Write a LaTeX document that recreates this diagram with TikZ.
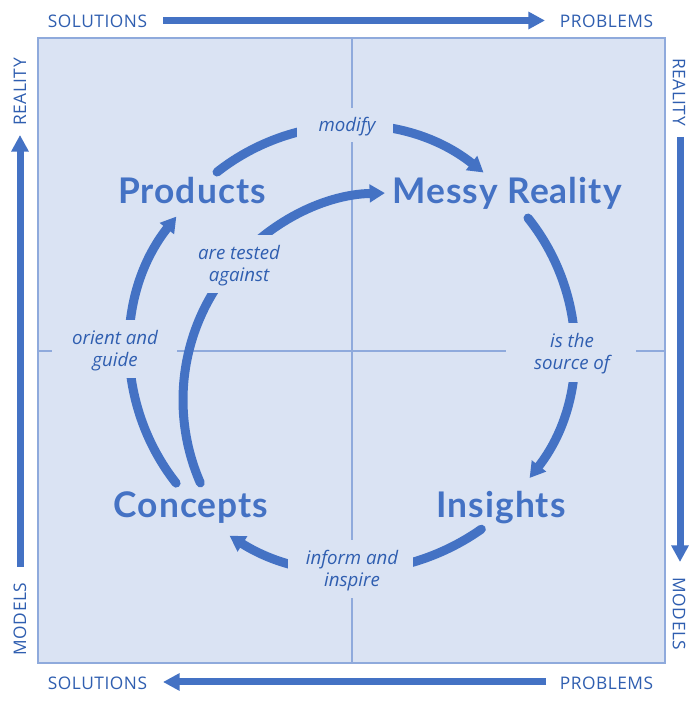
\documentclass[tikz,border=0pt]{standalone}
\usepackage{fontspec}
\setmainfont{Open Sans}
\newfontfamily\labelfont[LetterSpace=3]{Lato}
\newfontfamily\axisfont[LetterSpace=3]{Open Sans}
\usetikzlibrary{arrows.meta}
\definecolor{mainblue}{HTML}{4472C4}
\definecolor{bgblue}{HTML}{DAE3F3}
\definecolor{gridblue}{HTML}{8FAADC}
\definecolor{textblue}{HTML}{2F5EB0}
\begin{document}
\begin{tikzpicture}[x=0.75pt,y=0.75pt,
  cyc/.style={draw=mainblue,line width=6.75pt,line cap=round,-{Triangle[width=13pt,length=11.5pt]}},
  side/.style={draw=mainblue,line width=5.25pt,-{Triangle[width=12.5pt,length=12.5pt]}},
  big/.style={text=mainblue,font=\labelfont\bfseries\fontsize{26.5}{30}\selectfont,anchor=base,inner sep=0pt},
  rel/.style={text=textblue,font=\itshape\fontsize{14}{16.5}\selectfont,align=center,inner sep=0pt},
  axislabel/.style={text=textblue,font=\axisfont\fontsize{13}{15}\selectfont,inner sep=0pt},
  gapfill/.style={fill=bgblue}]
\useasboundingbox (0,0) rectangle (700,704);
\fill[white] (0,0) rectangle (700,704);
% quadrant box
\draw[gridblue,fill=bgblue,line width=1.1pt] (38,41) rectangle (665,666);
\draw[gridblue,line width=0.8pt] (352,41) -- (352,666);
\draw[gridblue,line width=0.8pt] (38,353) -- (665,353);
% arc centres
\coordinate (cA) at (350,363);
\coordinate (cB) at (364.5,355);
\coordinate (cC) at (350.5,360.3);
\coordinate (cD) at (345.3,354);
\coordinate (cE) at (390,304);
% cycle arcs
\draw[cyc] ([shift={(128.2:215)}]cA) arc[start angle=128.2,end angle=51.6,radius=215];
\draw[cyc] ([shift={(38.7:209.5)}]cB) arc[start angle=38.7,end angle=-38,radius=209.5];
\draw[cyc] ([shift={(-54.8:227)}]cC) arc[start angle=-54.8,end angle=-122.2,radius=227];
\draw[cyc] ([shift={(218.2:215.3)}]cD) arc[start angle=218.2,end angle=141.7,radius=215.3];
\draw[cyc] ([shift={(203.6:207)}]cE) arc[start angle=203.6,end angle=91.4,radius=207];
% gaps behind relation labels
\fill[gapfill] (297,562) rectangle (393,596);
\fill[gapfill] (190,411) rectangle (290,469);
\fill[gapfill] (52,326) rectangle (177,384);
\fill[gapfill] (506,322) rectangle (636,381);
\fill[gapfill] (288,106) rectangle (413,164);
% main labels
\node[big] (prod) at (192,500) {Products};
\node[big] (messy) at (507,500) {Messy Reality};
\node[big] (conc) at (191,186) {Concepts};
\node[big] (ins) at (501,186) {Insights};
% relation labels
\node[rel] (lmod) at (347,577) {modify};
\node[rel] (ltest) at (239,438) {are tested\\against};
\node[rel] (lorient) at (115,353) {orient and\\guide};
\node[rel] (lsource) at (572,350) {is the\\source of};
\node[rel] (linform) at (352,133) {inform and\\inspire};
% axis labels
\node[axislabel] (solT) at (97.5,683) {SOLUTIONS};
\node[axislabel] (proT) at (606.5,683) {PROBLEMS};
\node[axislabel] (solB) at (97.5,21) {SOLUTIONS};
\node[axislabel] (proB) at (606.5,21) {PROBLEMS};
\node[axislabel,rotate=90] (reaL) at (20,612) {REALITY};
\node[axislabel,rotate=90] (modL) at (20,85) {MODELS};
\node[axislabel,rotate=-90] (reaR) at (679,612) {REALITY};
\node[axislabel,rotate=-90] (modR) at (679,90) {MODELS};
% axis arrows
\coordinate (tS) at (163,683.5);
\coordinate (tE) at (545,683.5);
\coordinate (bS) at (546,22);
\coordinate (bE) at (163,22);
\coordinate (lS) at (20,137);
\coordinate (lE) at (20,569);
\coordinate (rS) at (680,567);
\coordinate (rE) at (680,142);
\draw[side] (tS) -- (tE);
\draw[side] (bS) -- (bE);
\draw[side] (lS) -- (lE);
\draw[side] (rS) -- (rE);
\end{tikzpicture}
\end{document}
